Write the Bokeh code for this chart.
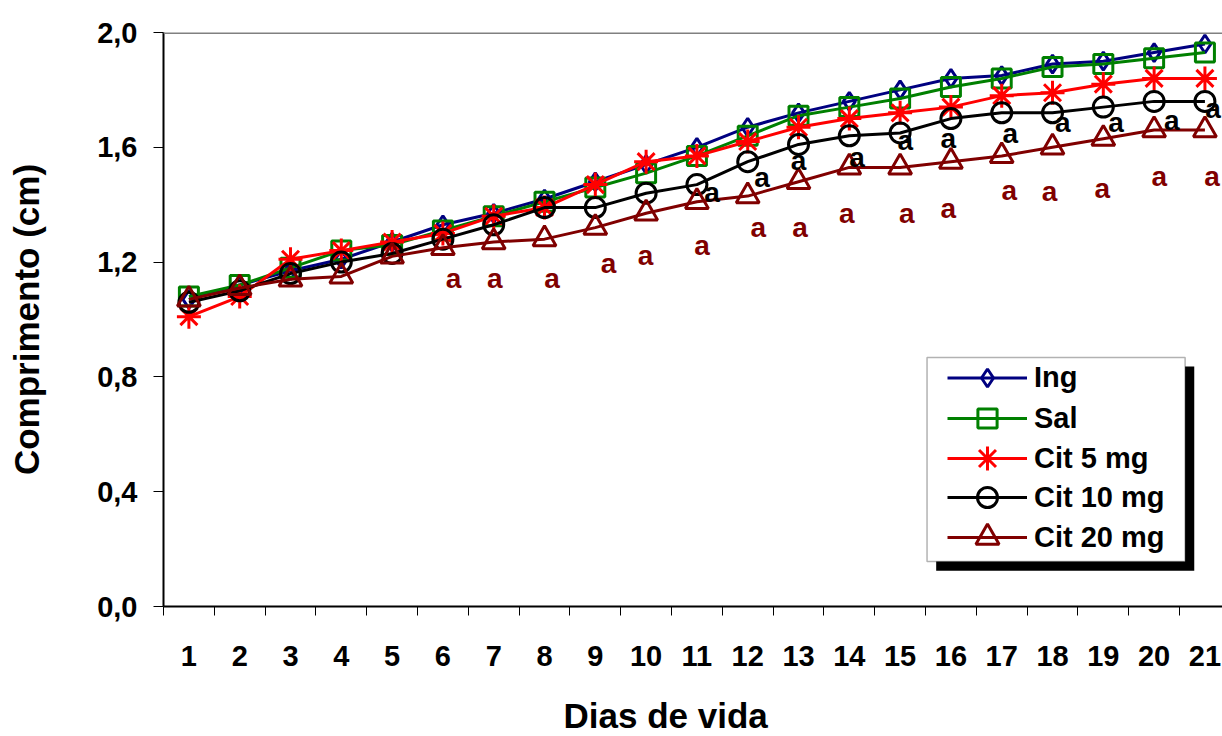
from bokeh.plotting import figure
from bokeh.models import (Range1d, FixedTicker, CustomJSTickFormatter, Legend, LegendItem,
                          BoxAnnotation, Span, LinearAxis, Title)
from bokeh.core.properties import value
from bokeh.embed import file_html
from bokeh.resources import INLINE

# Body length (cm) per day of life, one list per treatment group
days = list(range(1, 22))
ing = [1.07, 1.12, 1.17, 1.21, 1.27, 1.33, 1.37, 1.42, 1.48, 1.54, 1.60,
       1.67, 1.72, 1.76, 1.80, 1.84, 1.85, 1.89, 1.90, 1.93, 1.96]
sal = [1.08, 1.12, 1.18, 1.24, 1.26, 1.31, 1.36, 1.41, 1.46, 1.51, 1.57,
       1.64, 1.71, 1.74, 1.77, 1.81, 1.84, 1.88, 1.89, 1.91, 1.93]
cit5 = [1.01, 1.08, 1.21, 1.24, 1.27, 1.30, 1.36, 1.39, 1.47, 1.55, 1.57,
        1.62, 1.67, 1.70, 1.72, 1.74, 1.78, 1.79, 1.82, 1.84, 1.84]
cit10 = [1.06, 1.10, 1.16, 1.20, 1.23, 1.28, 1.33, 1.39, 1.39, 1.44, 1.47,
         1.55, 1.61, 1.64, 1.65, 1.70, 1.72, 1.72, 1.74, 1.76, 1.76]
cit20 = [1.07, 1.11, 1.14, 1.15, 1.22, 1.25, 1.27, 1.28, 1.32, 1.37, 1.41,
         1.43, 1.48, 1.53, 1.53, 1.55, 1.57, 1.60, 1.63, 1.66, 1.66]

y_ticks = [0.0, 0.4, 0.8, 1.2, 1.6, 2.0]

# Significance letters ("a") placed next to the Cit 10 mg and Cit 20 mg points
sig20_x = [6.21, 7.02, 8.15, 9.26, 9.99, 11.10, 12.21, 13.03, 13.95, 15.13,
           15.95, 17.15, 17.94, 18.98, 20.10, 21.14]
sig20_y = [1.142, 1.142, 1.142, 1.194, 1.223, 1.258, 1.322, 1.322, 1.368, 1.368,
           1.386, 1.449, 1.447, 1.455, 1.498, 1.498]
sig10_x = [11.30, 12.28, 13.00, 14.15, 15.10, 15.95, 17.17, 18.20, 19.25, 20.35, 21.16]
sig10_y = [1.444, 1.496, 1.554, 1.566, 1.624, 1.630, 1.647, 1.687, 1.687, 1.693, 1.734]

FONT = "Liberation Sans"

p = figure(width=1222, height=736, output_backend="svg", toolbar_location=None,
           x_range=Range1d(0.5, 21.346), y_range=Range1d(0.0, 2.0),
           min_border_left=163, min_border_right=0, min_border_top=32,
           min_border_bottom=130)
p.outline_line_color = None
p.grid.visible = False
p.background_fill_color = "white"
p.border_fill_color = "white"

# top border of the plot area
p.add_layout(Span(location=2.0, dimension="width", line_color="#808080", line_width=3))

series = [
    ("Ing", ing, "#000080", "diamond", 18),
    ("Sal", sal, "#008000", "square", 19),
    ("Cit 5 mg", cit5, "#FF0000", "asterisk", 24),
    ("Cit 10 mg", cit10, "#000000", "circle", 20),
    ("Cit 20 mg", cit20, "#800000", "triangle", 23),
]

rends = []
for name, vals, color, marker, size in series:
    ln = p.line(days, vals, line_color=color, line_width=3)
    sc = p.scatter(days, vals, marker=marker, size=size, line_color=color,
                   line_width=3, fill_color=None)
    rends.append((name, ln, sc, size))

p.text(sig20_x, sig20_y, text=["a"] * len(sig20_x), text_color="#800000",
       text_font=value(FONT), text_font_style="bold", text_font_size="28px",
       text_align="center", text_baseline="middle")
p.text(sig10_x, sig10_y, text=["a"] * len(sig10_x), text_color="#000000",
       text_font=value(FONT), text_font_style="bold", text_font_size="28px",
       text_align="center", text_baseline="middle")

# Axes
xa = p.xaxis[0]
xa.ticker = FixedTicker(ticks=days, minor_ticks=[d + 0.5 for d in range(0, 22)])
xa.major_tick_out = 0
xa.major_tick_in = 0
xa.minor_tick_out = 9
xa.minor_tick_in = 0
xa.minor_tick_line_color = "black"
xa.minor_tick_line_width = 1
xa.axis_line_color = "black"
xa.axis_line_width = 2
xa.major_label_standoff = 30
xa.major_label_text_font = FONT
xa.major_label_text_font_style = "bold"
xa.major_label_text_font_size = "29px"
xa.major_label_text_color = "black"

# empty strip between the day labels and the x title
spacer_axis = LinearAxis(ticker=FixedTicker(ticks=[1]), axis_line_color=None,
                         major_tick_out=25, major_tick_in=0, major_tick_line_color=None,
                         minor_tick_out=0, minor_tick_in=0, major_label_standoff=0,
                         formatter=CustomJSTickFormatter(code="return '';"))
p.add_layout(spacer_axis, "below")

# x title, set a little left of the frame centre
p.add_layout(Title(text="Dias de vida", align="left", offset=400, standoff=0,
                   text_font=FONT, text_font_style="bold", text_font_size="35px",
                   text_color="black"), "below")

ya = p.yaxis[0]
ya.ticker = FixedTicker(ticks=y_ticks)
ya.formatter = CustomJSTickFormatter(code="return tick.toFixed(1).replace('.', ',');")
ya.major_tick_out = 10
ya.major_tick_in = 0
ya.minor_tick_out = 0
ya.minor_tick_in = 0
ya.major_tick_line_color = "black"
ya.axis_line_color = "black"
ya.axis_line_width = 2
ya.major_label_standoff = 16
ya.major_label_text_font = FONT
ya.major_label_text_font_style = "bold"
ya.major_label_text_font_size = "29px"
ya.major_label_text_color = "black"
ya.axis_label = "Comprimento (cm)"
ya.axis_label_text_font = FONT
ya.axis_label_text_font_style = "bold"
ya.axis_label_text_font_size = "35px"
ya.axis_label_text_color = "black"
ya.axis_label_standoff = 48

# Legend frame with drop shadow
p.add_layout(BoxAnnotation(left=15.71, right=20.79, top=0.836, bottom=0.125,
                           fill_color="black", fill_alpha=1.0, line_color=None))
p.add_layout(BoxAnnotation(left=15.53, right=20.61, top=0.868, bottom=0.157,
                           fill_color="white", fill_alpha=1.0, line_color="black",
                           line_width=1.5))

row_centers = [228, 188, 148, 109, 69]
for (name, ln, sc, size), cy in zip(rends, row_centers):
    gh = int(round(size / 0.4))
    leg = Legend(items=[LegendItem(label=name, renderers=[ln, sc])],
                 location=(784, cy - gh // 2), padding=0, spacing=0,
                 glyph_width=80, glyph_height=gh, label_height=gh,
                 label_standoff=7, background_fill_alpha=0,
                 border_line_color=None, label_text_font=FONT,
                 label_text_font_style="bold", label_text_font_size="29px",
                 label_text_color="black")
    p.add_layout(leg)

open("out.html", "w").write(file_html(p, INLINE))
